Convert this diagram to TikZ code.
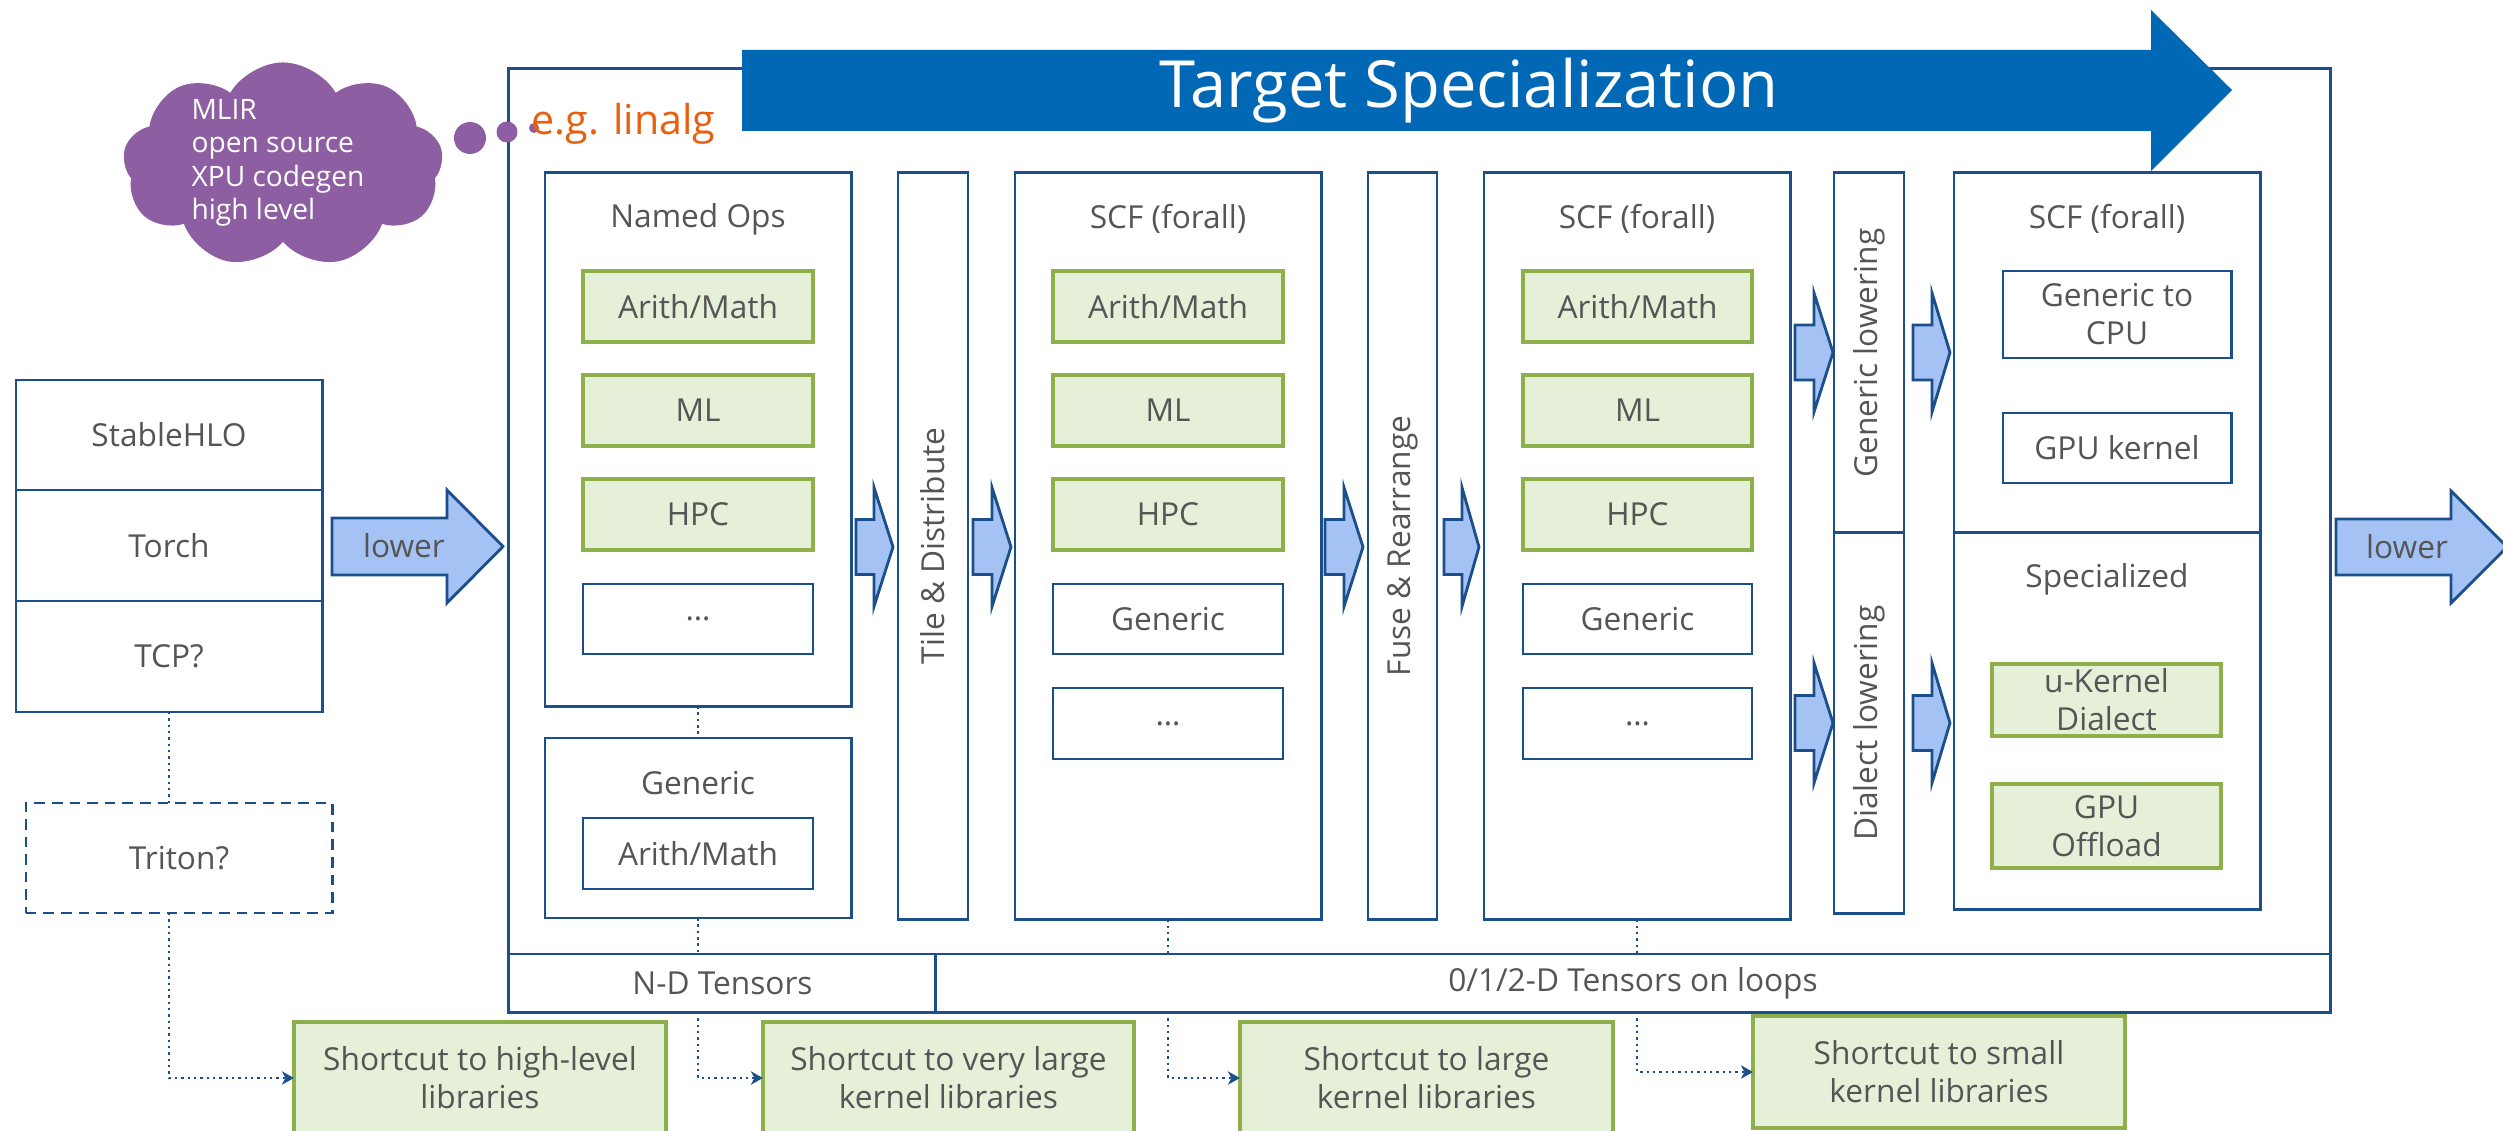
\documentclass[tikz,border=0pt]{standalone}
\usepackage{fontspec}
\setmainfont{Open Sans}
\usetikzlibrary{shapes.symbols,arrows.meta}
\definecolor{bblue}{HTML}{1B4F8C}
\definecolor{tblue}{HTML}{0068B5}
\definecolor{lblue}{HTML}{A4C2F4}
\definecolor{gfill}{HTML}{E6EFD8}
\definecolor{gline}{HTML}{8DB04B}
\definecolor{tgray}{HTML}{555555}
\definecolor{cpurple}{HTML}{8E5EA2}
\definecolor{eorange}{HTML}{E8600F}
\newcommand\lblfont{\fontsize{9}{10.8}\selectfont}
\newcommand\mybox[7]{%
  \pgfmathsetmacro\rw{(#5-#3)*0.284528}%
  \pgfmathsetmacro\rh{(#6-#4)*0.284528}%
  \pgfmathsetmacro\rcx{(#3+#5)/2}%
  \pgfmathsetmacro\rcy{(#4+#6)/2}%
  \node[#2, minimum width=\rw pt, minimum height=\rh pt] (#1) at (\rcx,\rcy) {#7};}
\newcommand\blockarrow[6]{%
  \draw[barrow] ({#1},{#4-#5}) -- ({#2},{#4-#5}) -- ({#2},{#4-#6}) -- ({#3},{#4})
    -- ({#2},{#4+#6}) -- ({#2},{#4+#5}) -- ({#1},{#4+#5}) -- cycle;}
\begin{document}
\begin{tikzpicture}[x=0.01cm,y=-0.01cm,
  box/.style={draw=bblue, line width=0.8pt, fill=white, inner sep=0pt, outer sep=0pt,
    text=tgray, font=\lblfont, align=center},
  gbox/.style={draw=gline, fill=gfill, line width=1.1pt, inner sep=0pt, outer sep=0pt,
    text=tgray, font=\lblfont, align=center},
  dbox/.style={box, dash pattern=on 3pt off 2pt},
  lbl/.style={text=tgray, font=\lblfont, inner sep=0pt, align=center},
  barrow/.style={fill=lblue, draw=bblue, line width=0.8pt, line join=miter},
  dotline/.style={draw=bblue, line width=0.7pt, dash pattern=on 0.7pt off 1.1pt},
  tip/.style={-{Stealth[length=3.4pt,width=3.8pt,inset=1pt]}}
]
\useasboundingbox (0,0) rectangle (2503,1131);
\clip (0,0) rectangle (2503,1131);

% outer frame and bands
\mybox{outer}{box}{509}{69}{2330}{1012}{}
\mybox{ndb}{box}{509}{954}{936}{1012}{N-D Tensors}
\mybox{lpb}{box}{936}{954}{2330}{1012}{0/1/2-D Tensors on loops}

% left stack
\mybox{shlo}{box}{16}{380}{322}{490}{StableHLO}
\mybox{torch}{box}{16}{490}{322}{601}{Torch}
\mybox{tcp}{box}{16}{601}{322}{712}{TCP?}
\mybox{triton}{dbox}{26}{803}{332}{913}{Triton?}

% containers
\mybox{named}{box}{545}{173}{851}{706}{}
\mybox{generic}{box}{545}{738}{851}{918}{}
\mybox{tile}{box}{898}{173}{968}{919}{}
\mybox{scf1}{box}{1015}{173}{1321}{919}{}
\mybox{fuse}{box}{1368}{173}{1437}{919}{}
\mybox{scf2}{box}{1484}{173}{1790}{919}{}
\mybox{genlow}{box}{1834}{173}{1904}{533}{}
\mybox{diallow}{box}{1834}{533}{1904}{913}{}
\mybox{fintop}{box}{1954}{173}{2260}{533}{}
\mybox{finbot}{box}{1954}{533}{2260}{909}{}

% container labels
\node[lbl] (namedlbl) at (698,219) {Named Ops};
\node[lbl] (genericlbl) at (698,783) {Generic};
\node[lbl] (scf1lbl) at (1168,219) {SCF (forall)};
\node[lbl] (scf2lbl) at (1637,219) {SCF (forall)};
\node[lbl] (finlbl) at (2107,219) {SCF (forall)};
\node[lbl] (speclbl) at (2107,579) {Specialized};
\node[lbl, rotate=90] (tilelbl) at (tile.center) {Tile \& Distribute};
\node[lbl, rotate=90] (fuselbl) at (fuse.center) {Fuse \& Rearrange};
\node[lbl, rotate=90] (genlowlbl) at (genlow.center) {Generic lowering};
\node[lbl, rotate=90] (diallowlbl) at (diallow.center) {Dialect lowering};

% Named ops inner
\mybox{n1}{gbox}{583}{271}{813}{342}{Arith/Math}
\mybox{n2}{gbox}{583}{375}{813}{446}{ML}
\mybox{n3}{gbox}{583}{479}{813}{550}{HPC}
\mybox{n4}{box}{583}{584}{813}{654}{…}
\mybox{g1}{box}{583}{818}{813}{889}{Arith/Math}
% SCF 1 inner
\mybox{s1}{gbox}{1053}{271}{1283}{342}{Arith/Math}
\mybox{s2}{gbox}{1053}{375}{1283}{446}{ML}
\mybox{s3}{gbox}{1053}{479}{1283}{550}{HPC}
\mybox{s4}{box}{1053}{584}{1283}{654}{Generic}
\mybox{s5}{box}{1053}{688}{1283}{759}{…}
% SCF 2 inner
\mybox{t1}{gbox}{1523}{271}{1752}{342}{Arith/Math}
\mybox{t2}{gbox}{1523}{375}{1752}{446}{ML}
\mybox{t3}{gbox}{1523}{479}{1752}{550}{HPC}
\mybox{t4}{box}{1523}{584}{1752}{654}{Generic}
\mybox{t5}{box}{1523}{688}{1752}{759}{…}
% final
\mybox{gcpu}{box}{2003}{271}{2231}{358}{Generic to\\CPU}
\mybox{gpuk}{box}{2003}{413}{2231}{483}{GPU kernel}
\mybox{ukern}{gbox}{1992}{664}{2221}{736}{u-Kernel\\Dialect}
\mybox{gpuo}{gbox}{1992}{784}{2221}{868}{GPU\\Offload}

% block arrows
\blockarrow{856}{874}{893}{547}{27.5}{59.5}
\blockarrow{973}{992}{1011}{547}{27.5}{59.5}
\blockarrow{1325}{1344}{1363}{547}{27.5}{59.5}
\blockarrow{1444}{1462}{1479}{547}{27.5}{59.5}
\blockarrow{1795}{1814}{1833}{352.5}{27.5}{59.5}
\blockarrow{1913}{1932}{1950}{352.5}{27.5}{59.5}
\blockarrow{1795}{1814}{1833}{723}{27.5}{60}
\blockarrow{1913}{1932}{1950}{723}{27.5}{60}
\blockarrow{332}{447}{503}{546.5}{28.5}{56.5}
\blockarrow{2336}{2451}{2507}{547}{28}{56}
\node[lbl] (lowerL) at (404,546) {lower};
\node[lbl] (lowerR) at (2407,547) {lower};

% top arrow
\fill[tblue] (742,50) -- (2151,50) -- (2151,10) -- (2232,90) -- (2151,171) -- (2151,131) -- (742,131) -- cycle;
\node[text=white, font=\fontsize{18.5}{22}\selectfont, inner sep=0pt] (target) at (1469,91) {Target Specialization};

% cloud
\node[cloud, cloud puffs=9, cloud puff arc=120, aspect=1.5, fill=cpurple, draw=none,
  minimum width=3.2cm, minimum height=2.05cm, inner sep=0pt] (cloud) at (283,165) {};
\node[text=white, font=\fontsize{8}{9.5}\selectfont, align=left, inner sep=0pt] (cloudtxt) at (278,163)
  {MLIR\\open source\\XPU codegen\\high level};
\fill[cpurple] (470,138) circle[radius=0.16cm];
\fill[cpurple] (507,132) circle[radius=0.105cm];
\fill[cpurple] (534,128) circle[radius=0.05cm];
\node[anchor=base west, text=eorange, font=\fontsize{11.7}{14}\selectfont, inner sep=0pt] (linalg) at (531,135) {e.g. linalg};

% shortcut boxes
\mybox{shA}{gbox}{294}{1022}{666}{1134}{Shortcut to high-level\\libraries}
\mybox{shB}{gbox}{763}{1022}{1134}{1134}{Shortcut to very large\\kernel libraries}
\mybox{shC}{gbox}{1240}{1022}{1613}{1134}{Shortcut to large\\kernel libraries}
\mybox{shD}{gbox}{1753}{1016}{2125}{1128}{Shortcut to small\\kernel libraries}

% dotted connectors
\draw[dotline] (tcp.south) -- (tcp.south |- triton.north);
\draw[dotline, tip] (tcp.south |- triton.south) |- (shA.west);
\draw[dotline] (named.south) -- (generic.north);
\draw[dotline] (generic.south) -- (generic.south |- ndb.north);
\draw[dotline, tip] (generic.south |- ndb.south) |- (shB.west);
\draw[dotline] (scf1.south) -- (scf1.south |- lpb.north);
\draw[dotline, tip] (scf1.south |- lpb.south) |- (shC.west);
\draw[dotline] (scf2.south) -- (scf2.south |- lpb.north);
\draw[dotline, tip] (scf2.south |- lpb.south) |- (shD.west);
\end{tikzpicture}
\end{document}
